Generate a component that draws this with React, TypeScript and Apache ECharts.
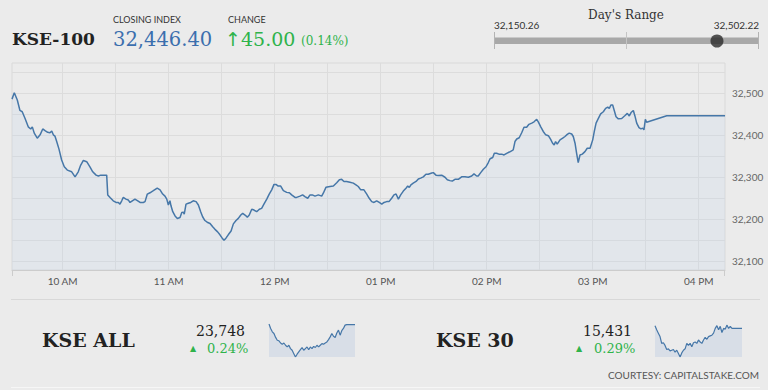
import React, { useEffect, useRef } from "react";
import * as echarts from "echarts";

const SERIF = '"DejaVu Serif", serif';
const SANS = 'Lato, "Open Sans", sans-serif';

// KSE-100 intraday: minutes after 09:30 and index level
const minutesAfterOpen = [
  1.3, 2.6, 4.3, 5.8, 7.1, 8.7, 10.5, 11.9, 12.8, 13.9,
  15.6, 17.2, 18.7, 20.0, 21.5, 22.8, 23.8, 24.7, 25.6, 26.6,
  27.9, 29.4, 30.9, 32.6, 35.1, 37.0, 38.8, 40.2, 41.7, 43.6,
  45.5, 47.0, 48.9, 50.2, 51.5, 54.9, 55.5, 56.8, 58.6, 60.2,
  61.5, 62.4, 63.4, 64.3, 65.8, 67.1, 68.1, 69.4, 70.9, 72.5,
  73.8, 75.6, 76.6, 77.9, 79.4, 81.3, 83.5, 85.1, 86.6, 87.9,
  88.9, 89.8, 90.7, 91.3, 92.3, 93.6, 94.9, 96.4, 97.4, 98.3,
  98.8, 99.8, 101.1, 102.5, 103.9, 105.5, 106.8, 108.1, 109.2, 110.5,
  111.8, 113.4, 114.9, 116.2, 117.7, 119.0, 120.3, 121.3, 122.4, 123.7,
  125.3, 126.6, 128.1, 129.4, 130.8, 131.9, 133.2, 134.5, 135.6, 137.0,
  138.3, 139.8, 141.3, 142.6, 143.9, 145.5, 146.9, 148.3, 149.6, 150.7,
  152.0, 153.4, 154.9, 156.8, 158.3, 159.6, 161.5, 162.4, 164.3, 165.8,
  167.1, 168.7, 170.0, 171.3, 172.8, 174.7, 176.6, 177.5, 179.0, 181.3,
  183.2, 185.1, 186.6, 187.9, 189.2, 190.7, 192.6, 194.5, 196.0, 197.3,
  198.7, 200.5, 202.1, 203.5, 204.9, 206.2, 207.7, 209.2, 210.6, 211.9,
  213.4, 214.7, 216.2, 217.5, 218.7, 220.0, 221.3, 222.8, 224.3, 225.3,
  226.2, 227.1, 228.4, 230.0, 231.3, 232.6, 234.1, 235.6, 236.9, 238.9,
  239.8, 241.3, 242.6, 244.5, 246.4, 247.7, 249.2, 250.5, 252.0, 253.9,
  255.8, 257.7, 259.6, 261.5, 262.8, 264.3, 265.2, 266.6, 268.1, 269.6,
  270.9, 271.9, 273.4, 274.3, 275.6, 276.9, 278.5, 279.8, 281.3, 282.8,
  284.1, 285.0, 286.0, 287.0, 288.4, 289.8, 291.1, 292.6, 293.9, 295.5,
  296.8, 298.3, 299.2, 300.6, 302.0, 303.4, 304.9, 306.2, 307.3, 308.2,
  309.0, 309.9, 311.5, 313.0, 314.3, 315.6, 316.7, 318.1, 319.0, 320.0,
  320.9, 321.8, 322.8, 324.1, 325.6, 326.9, 328.5, 330.0, 330.9, 331.9,
  333.2, 334.5, 336.0, 337.3, 338.5, 339.4, 340.3, 341.3, 342.2, 343.2,
  344.5, 346.4, 348.3, 349.6, 350.7, 351.7, 353.0, 353.9, 354.9, 356.2,
  357.3, 358.3, 359.0, 359.8, 360.5, 371.9, 404.9,
];

const kse100Values = [
  32486, 32501, 32484, 32459, 32456, 32440, 32420, 32415, 32420, 32405,
  32393, 32401, 32415, 32411, 32407, 32406, 32410, 32401, 32398, 32385,
  32367, 32341, 32325, 32317, 32313, 32301, 32313, 32329, 32340, 32337,
  32324, 32313, 32305, 32303, 32305, 32305, 32258, 32252, 32244, 32240,
  32240, 32236, 32244, 32252, 32248, 32246, 32240, 32244, 32248, 32244,
  32240, 32240, 32242, 32260, 32263, 32268, 32274, 32270, 32260, 32255,
  32248, 32234, 32244, 32232, 32218, 32208, 32202, 32204, 32216, 32217,
  32212, 32236, 32238, 32240, 32244, 32242, 32234, 32218, 32206, 32197,
  32193, 32190, 32182, 32176, 32170, 32163, 32155, 32150, 32155, 32163,
  32172, 32189, 32197, 32202, 32210, 32214, 32210, 32205, 32210, 32224,
  32222, 32218, 32224, 32226, 32236, 32248, 32260, 32270, 32283, 32283,
  32279, 32279, 32268, 32264, 32263, 32258, 32252, 32252, 32255, 32258,
  32254, 32250, 32258, 32258, 32255, 32258, 32255, 32262, 32276, 32278,
  32279, 32287, 32294, 32295, 32290, 32290, 32288, 32286, 32282, 32278,
  32270, 32270, 32260, 32250, 32242, 32240, 32244, 32240, 32236, 32240,
  32242, 32242, 32250, 32258, 32260, 32248, 32258, 32267, 32274, 32279,
  32276, 32282, 32286, 32290, 32296, 32298, 32301, 32307, 32307, 32310,
  32311, 32305, 32304, 32305, 32300, 32294, 32292, 32291, 32295, 32295,
  32301, 32301, 32300, 32303, 32308, 32303, 32303, 32311, 32319, 32325,
  32335, 32344, 32347, 32357, 32357, 32355, 32355, 32353, 32357, 32360,
  32363, 32365, 32385, 32391, 32394, 32406, 32419, 32419, 32426, 32429,
  32432, 32438, 32432, 32420, 32409, 32401, 32399, 32390, 32381, 32377,
  32385, 32379, 32389, 32393, 32397, 32402, 32405, 32403, 32397, 32381,
  32357, 32335, 32353, 32355, 32361, 32369, 32369, 32389, 32409, 32429,
  32440, 32451, 32456, 32464, 32467, 32464, 32472, 32472, 32459, 32444,
  32439, 32440, 32447, 32452, 32446, 32454, 32459, 32446, 32429, 32418,
  32415, 32417, 32413, 32438, 32431, 32446.4, 32446.4,
];

const hourTicks = [10, 11, 12, 13, 14, 15, 16];
const hourLabels = ["10 AM", "11 AM", "12 PM", "01 PM", "02 PM", "03 PM", "04 PM"];
const priceGridLevels = [32100, 32150, 32200, 32250, 32300, 32350, 32400, 32450, 32500, 32550];
const halfHourMarks = [10, 10.5, 11, 11.5, 12, 12.5, 13, 13.5, 14, 14.5, 15, 15.5, 16];

const closingIndex = 32446.4;
const changePoints = 45.0;
const changePct = 0.14;
const dayLow = 32150.26;
const dayHigh = 32502.22;

const kseAllValue = 23748;
const kseAllPct = 0.24;
const kseAllSpark = [
  23749, 23741, 23735, 23732, 23725, 23720, 23719, 23715, 23713, 23715,
  23711, 23708, 23711, 23705, 23702, 23696, 23690, 23695, 23699, 23703,
  23707, 23702, 23705, 23708, 23703, 23708, 23705, 23709, 23707, 23711,
  23708, 23711, 23714, 23713, 23715, 23717, 23721, 23726, 23732, 23727,
  23725, 23733, 23738, 23729, 23737, 23741, 23747, 23748, 23748, 23748,
  23748, 23748, 23748,
];

const kse30Value = 15431;
const kse30Pct = 0.29;
const kse30Spark = [
  15435, 15429, 15424, 15419, 15409, 15410, 15406, 15400, 15401, 15398,
  15399, 15400, 15396, 15399, 15394, 15389, 15395, 15399, 15401, 15409,
  15406, 15409, 15404, 15410, 15411, 15409, 15414, 15411, 15409, 15414,
  15418, 15415, 15419, 15420, 15421, 15424, 15431, 15435, 15429, 15434,
  15425, 15431, 15430, 15436, 15431, 15434, 15431, 15431, 15431, 15431,
  15431, 15431, 15431,
];

const fmt = (v: number, d = 0) => {
  const [a, b] = v.toFixed(d).split(".");
  const s = a.replace(/\B(?=(\d{3})+(?!\d))/g, ",");
  return b ? s + "." + b : s;
};

const txt = (text: string, x: number, y: number, font: string, fill: string, align = "left") => ({
  type: "text",
  x,
  y,
  silent: true,
  style: { text, font, fill, textAlign: align, textVerticalAlign: "middle" },
});

const GREEN = "#2fb34b";
const LINE = "#4677a8";

export default function App() {
  const ref = useRef<HTMLDivElement>(null);

  useEffect(() => {
    if (!ref.current) return;
    const chart = echarts.init(ref.current, undefined, { renderer: "svg" });
    const n = Math.min(minutesAfterOpen.length, kse100Values.length);
    const mainData = [];
    for (let i = 0; i < n; i++) mainData.push([9.5 + minutesAfterOpen[i] / 60, kse100Values[i]]);

    const gridMarks = [
      ...priceGridLevels.map((v) => ({ yAxis: v })),
      ...halfHourMarks.map((h) => ({ xAxis: h })),
    ];

    const option: any = {
      animation: false,
      backgroundColor: "#ebebeb",
      grid: [
        { left: 12, right: 43, top: 63, bottom: 120, show: true, borderColor: "#d9d9d9", borderWidth: 1, backgroundColor: "transparent" },
        { left: 494, width: 265, top: 34, height: 14 },
        { left: 269, width: 86, top: 324, height: 33 },
        { left: 655, width: 87, top: 325, height: 32 },
      ],
      xAxis: [
        {
          gridIndex: 0,
          type: "value",
          min: 9.5217,
          max: 16.248,
          minInterval: 1,
          maxInterval: 1,
          axisLine: { show: true, lineStyle: { color: "#cccccc", width: 1 } },
          axisTick: { show: false },
          splitLine: { show: false },
          axisLabel: {
            color: "#555",
            fontSize: 10,
            fontFamily: SANS,
            margin: 6,
            formatter: (v: number) => {
              const i = hourTicks.findIndex((h) => Math.abs(h - v) < 1e-6);
              return i >= 0 ? hourLabels[i] : "";
            },
          },
        },
        { gridIndex: 1, type: "value", min: dayLow, max: dayHigh, show: false },
        { gridIndex: 2, type: "category", boundaryGap: false, data: kseAllSpark.map((_, i) => i), show: false },
        { gridIndex: 3, type: "category", boundaryGap: false, data: kse30Spark.map((_, i) => i), show: false },
      ],
      yAxis: [
        {
          gridIndex: 0,
          type: "value",
          position: "right",
          min: 32079.2,
          max: 32572,
          minInterval: 100,
          maxInterval: 100,
          axisLine: { show: false },
          axisTick: { show: false },
          splitLine: { show: false },
          axisLabel: {
            color: "#666",
            fontSize: 10,
            fontFamily: SANS,
            margin: 7,
            formatter: (v: number) => (Math.abs(v / 100 - Math.round(v / 100)) < 1e-6 ? fmt(v) : ""),
          },
        },
        { gridIndex: 1, type: "value", min: 0, max: 1, show: false },
        { gridIndex: 2, type: "value", min: "dataMin", max: "dataMax", show: false },
        { gridIndex: 3, type: "value", min: "dataMin", max: "dataMax", show: false },
      ],
      series: [
        {
          type: "line",
          name: "grid",
          xAxisIndex: 0,
          yAxisIndex: 0,
          data: [],
          silent: true,
          z: 1,
          markLine: {
            silent: true,
            z: 1,
            symbol: ["none", "none"],
            label: { show: false },
            lineStyle: { color: "#dcdcdc", width: 1, type: "solid" },
            emphasis: { disabled: true },
            data: gridMarks,
          },
        },
        {
          type: "line",
          name: "KSE-100",
          xAxisIndex: 0,
          yAxisIndex: 0,
          data: mainData,
          showSymbol: false,
          silent: true,
          z: 3,
          lineStyle: { color: LINE, width: 1.5 },
          areaStyle: { color: "rgba(185,208,238,0.24)", origin: "start" },
        },
        {
          type: "scatter",
          name: "Close",
          xAxisIndex: 1,
          yAxisIndex: 1,
          data: [[closingIndex, 0.5]],
          symbolSize: 13,
          itemStyle: { color: "#2a2a2a" },
          silent: true,
          z: 5,
        },
        {
          type: "line",
          name: "KSE ALL",
          xAxisIndex: 2,
          yAxisIndex: 2,
          data: kseAllSpark,
          showSymbol: false,
          silent: true,
          lineStyle: { color: LINE, width: 1.2 },
          areaStyle: { color: "#d8dee7", origin: "start", opacity: 1 },
        },
        {
          type: "line",
          name: "KSE 30",
          xAxisIndex: 3,
          yAxisIndex: 3,
          data: kse30Spark,
          showSymbol: false,
          silent: true,
          lineStyle: { color: LINE, width: 1.2 },
          areaStyle: { color: "#d8dee7", origin: "start", opacity: 1 },
        },
      ],
      graphic: [
        // header
        txt("KSE-100", 12, 39, `bold 17px ${SERIF}`, "#222"),
        txt("CLOSING INDEX", 113, 19, `9px ${SANS}`, "#333"),
        txt(fmt(closingIndex, 2), 113, 39, `19.5px ${SERIF}`, "#3b6fae"),
        txt("CHANGE", 228, 19, `9px ${SANS}`, "#333"),
        txt("↑", 225, 39, `19px "DejaVu Sans", sans-serif`, GREEN),
        txt(fmt(changePoints, 2), 241, 39, `19px ${SERIF}`, GREEN),
        txt(`(${changePct.toFixed(2)}%)`, 301, 41, `12px ${SERIF}`, GREEN),
        // day's range
        txt("Day's Range", 626, 15, `12px ${SERIF}`, "#333", "center"),
        txt(fmt(dayLow, 2), 494, 25, `10px ${SANS}`, "#333"),
        txt(fmt(dayHigh, 2), 759, 25, `10px ${SANS}`, "#333", "right"),
        { type: "rect", silent: true, z: 1, shape: { x: 494, y: 37.5, width: 265, height: 6.5 }, style: { fill: "#a8a8a8" } },
        { type: "line", silent: true, z: 1, shape: { x1: 494.5, y1: 32, x2: 494.5, y2: 49 }, style: { stroke: "#b3b3b3", lineWidth: 1 } },
        { type: "line", silent: true, z: 1, shape: { x1: 626.5, y1: 32, x2: 626.5, y2: 49 }, style: { stroke: "#c4c4c4", lineWidth: 1 } },
        { type: "line", silent: true, z: 1, shape: { x1: 758.5, y1: 32, x2: 758.5, y2: 49 }, style: { stroke: "#b3b3b3", lineWidth: 1 } },
        // edge ticks of main x axis
        { type: "line", silent: true, shape: { x1: 12.5, y1: 270, x2: 12.5, y2: 276 }, style: { stroke: "#cccccc", lineWidth: 1 } },
        { type: "line", silent: true, shape: { x1: 724.5, y1: 270, x2: 724.5, y2: 276 }, style: { stroke: "#cccccc", lineWidth: 1 } },
        // separators
        { type: "line", silent: true, shape: { x1: 11, y1: 299.5, x2: 760, y2: 299.5 }, style: { stroke: "#d8d8d8", lineWidth: 1 } },
        { type: "line", silent: true, shape: { x1: 11, y1: 387.5, x2: 760, y2: 387.5 }, style: { stroke: "#f6f6f6", lineWidth: 1 } },
        // bottom indices
        txt("KSE ALL", 42, 340, `bold 19px ${SERIF}`, "#222"),
        txt(fmt(kseAllValue), 245, 331, `14px ${SERIF}`, "#222", "right"),
        txt("▲", 190, 348, `8px "DejaVu Sans", sans-serif`, GREEN),
        txt(`${kseAllPct.toFixed(2)}%`, 207, 348, `13px ${SERIF}`, GREEN),
        txt("KSE 30", 436, 340, `bold 19px ${SERIF}`, "#222"),
        txt(fmt(kse30Value), 632, 331, `14px ${SERIF}`, "#222", "right"),
        txt("▲", 576, 348, `8px "DejaVu Sans", sans-serif`, GREEN),
        txt(`${kse30Pct.toFixed(2)}%`, 594, 348, `13px ${SERIF}`, GREEN),
        txt("COURTESY: CAPITALSTAKE.COM", 759, 375, `10px ${SANS}`, "#555", "right"),
      ],
    };

    chart.setOption(option);
    return () => chart.dispose();
  }, []);

  return (
    <div
      ref={ref}
      style={{ position: "fixed", left: 0, top: 0, width: 768, height: 390, background: "#ebebeb" }}
    />
  );
}
